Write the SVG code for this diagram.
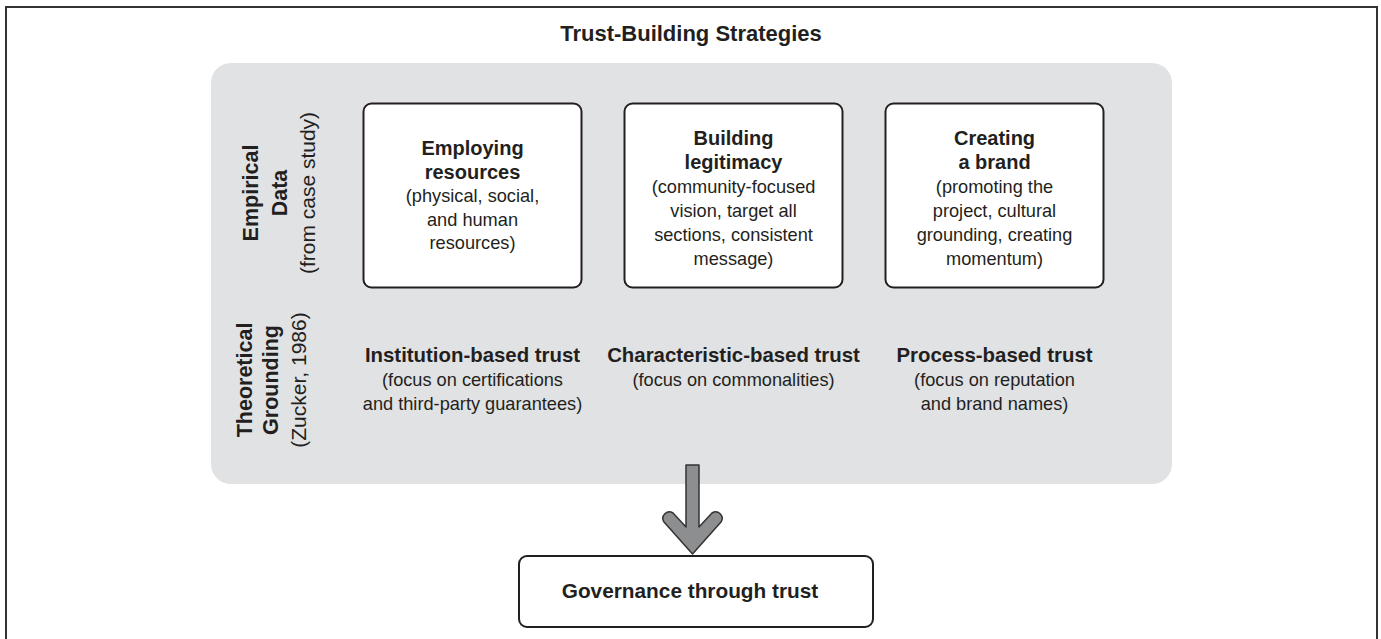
<svg xmlns="http://www.w3.org/2000/svg" width="1381" height="639" viewBox="0 0 1381 639">
  <style>
    text { font-family: "Liberation Sans", Arial, sans-serif; fill: #231f20; text-anchor: middle; }
    .title { font-size: 22px; font-weight: bold; }
    .head { font-size: 20px; font-weight: bold; }
    .ghead { font-size: 20.8px; font-weight: bold; }
    .bhead { font-size: 20.4px; font-weight: bold; }
    .sub { font-size: 18.2px; }
    .vhead { font-size: 21.5px; font-weight: bold; }
    .vsub { font-size: 21px; }
    .box { fill: #ffffff; stroke: #231f20; stroke-width: 2; }
  </style>
  <rect x="6" y="7" width="1371" height="645" fill="#ffffff" stroke="#333333" stroke-width="2"/>
  <text class="title" x="691" y="41">Trust-Building Strategies</text>
  <rect id="panel" x="211" y="63" width="961" height="421" rx="20" ry="20" fill="#e1e2e4"/>

  <g id="label-empirical" transform="translate(0,193) rotate(-90)">
    <text class="vhead" x="0" y="258">Empirical</text>
    <text class="vhead" x="0" y="287">Data</text>
    <text class="vsub" x="0" y="315">(from case study)</text>
  </g>
  <g id="label-theoretical" transform="translate(0,380) rotate(-90)">
    <text class="vhead" x="0" y="252">Theoretical</text>
    <text class="vhead" x="0" y="278">Grounding</text>
    <text class="vsub" x="0" y="306">(Zucker, 1986)</text>
  </g>

  <g id="node-employing">
    <rect class="box" x="363.5" y="103.5" width="218" height="184" rx="8"/>
    <text class="head" x="472.5" y="155">Employing</text>
    <text class="head" x="472.5" y="179">resources</text>
    <text class="sub" x="472.5" y="202">(physical, social,</text>
    <text class="sub" x="472.5" y="225.5">and human</text>
    <text class="sub" x="472.5" y="249">resources)</text>
  </g>
  <g id="node-legitimacy">
    <rect class="box" x="624.5" y="103.5" width="218" height="184" rx="8"/>
    <text class="head" x="733.5" y="145">Building</text>
    <text class="head" x="733.5" y="169">legitimacy</text>
    <text class="sub" x="733.5" y="193">(community-focused</text>
    <text class="sub" x="733.5" y="217">vision, target all</text>
    <text class="sub" x="733.5" y="241">sections, consistent</text>
    <text class="sub" x="733.5" y="265">message)</text>
  </g>
  <g id="node-brand">
    <rect class="box" x="885.5" y="103.5" width="218" height="184" rx="8"/>
    <text class="head" x="994.5" y="145">Creating</text>
    <text class="head" x="994.5" y="169">a brand</text>
    <text class="sub" x="994.5" y="193">(promoting the</text>
    <text class="sub" x="994.5" y="217">project, cultural</text>
    <text class="sub" x="994.5" y="241">grounding, creating</text>
    <text class="sub" x="994.5" y="265">momentum)</text>
  </g>

  <g id="node-institution">
    <text class="bhead" x="472.5" y="362">Institution-based trust</text>
    <text class="sub" x="472.5" y="386">(focus on certifications</text>
    <text class="sub" x="472.5" y="409.5">and third-party guarantees)</text>
  </g>
  <g id="node-characteristic">
    <text class="bhead" x="733.5" y="362">Characteristic-based trust</text>
    <text class="sub" x="733.5" y="386">(focus on commonalities)</text>
  </g>
  <g id="node-process">
    <text class="bhead" x="994.5" y="362">Process-based trust</text>
    <text class="sub" x="994.5" y="386">(focus on reputation</text>
    <text class="sub" x="994.5" y="409.5">and brand names)</text>
  </g>

  <g id="connectors">
    <path d="M686,465 H699 V527 L712,513 A6.5,6.5 0 0 1 721,522 L692.5,554 L664,522 A6.5,6.5 0 0 1 673,513 L686,527 Z" fill="#8d8e90" stroke="#333333" stroke-width="1.5" stroke-linejoin="round"/>
  </g>

  <g id="node-governance">
    <rect class="box" x="519" y="556" width="354" height="71" rx="8"/>
    <text class="ghead" x="690" y="598">Governance through trust</text>
  </g>
</svg>
